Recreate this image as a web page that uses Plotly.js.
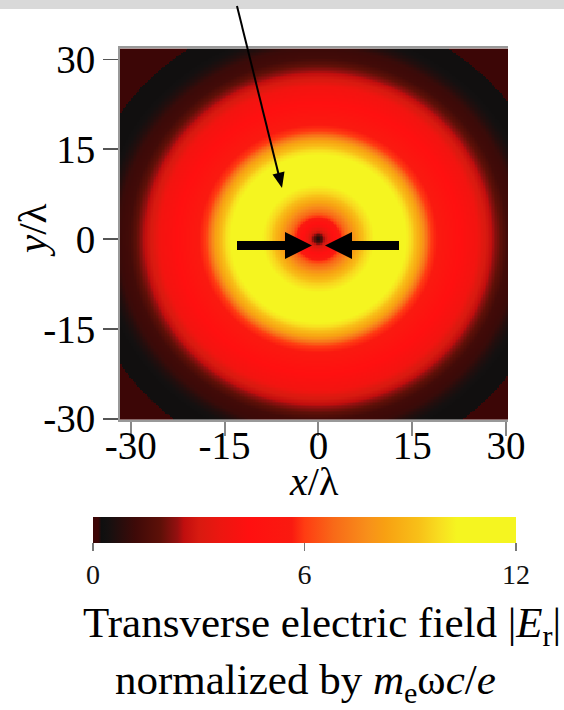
<!DOCTYPE html>
<html><head><meta charset="utf-8">
<script src="https://cdn.plot.ly/plotly-3.0.1.min.js"></script>
<style>html,body{margin:0;padding:0;background:#fff;}#chart{width:564px;height:710px;}</style>
</head><body><div id="chart"></div>
<script>
// Radial profile of |E_r| (r in units of λ, value in m_e ω c / e)
const profileR = [0, 0.5, 1, 2, 2.6, 3, 4.3, 6, 7.6, 9.3, 10.5, 11.5, 12.5, 13.7, 14.7, 16.4, 18, 19.7, 22, 23.3, 25.3, 26.3, 27.9, 29.1, 30.2, 31.2, 32, 33, 34, 35, 37.9, 38, 50];
const profileE = [0.3, 1.5, 2.6, 4.0, 4.5, 5.0, 6.7, 8.3, 9.6, 10.5, 11.5, 12, 11.5, 10.5, 9.9, 8.3, 6.0, 5.4, 4.6, 4.3, 3.9, 3.2, 2.5, 1.9, 1.3, 1.2, 1.1, 0.7, 0.45, 0.3, 0.3, 0, 0];

const xTickVals = [-30, -15, 0, 15, 30];
const xTickText = ['-30', '-15', '0', '15', '30'];
const yTickVals = [-30, -15, 0, 15, 30];
const yTickText = ['-30', '-15', '0', '15', '30'];
const cbTickVals = [0, 6, 12];
const cbTickText = ['0', '6', '12'];

const xRange = [-31.7, 30.3];
const yRange = [-30.2, 31.9];
const zRange = [0, 12];

const colorscale = [
  [0, '#3c0606'], [0.012, '#3c0606'], [0.02, '#0f0f0f'], [0.035, '#141010'],
  [0.1, '#3e0a08'], [0.16, '#5e1008'], [0.2, '#961010'], [0.215, '#c00e0e'],
  [0.25, '#d81a10'], [0.3, '#ec1610'], [0.37, '#ff1010'], [0.47, '#fa1a10'],
  [0.5, '#ff3c12'], [0.57, '#f86a18'], [0.65, '#f8901a'], [0.69, '#f8a012'],
  [0.77, '#f8c018'], [0.82, '#f8de20'], [0.86, '#f5f520'], [1, '#f5f520']
];

// build the 2-D table Plotly needs from the radial profile
function fieldAt(r) {
  for (let i = 1; i < profileR.length; i++) {
    if (r <= profileR[i]) {
      const t = (r - profileR[i - 1]) / (profileR[i] - profileR[i - 1]);
      return profileE[i - 1] + t * (profileE[i] - profileE[i - 1]);
    }
  }
  return profileE[profileE.length - 1];
}
const step = 0.25;
const xs = [], ys = [];
for (let x = xRange[0] + step / 2; x < xRange[1]; x += step) xs.push(+x.toFixed(4));
for (let y = yRange[0] + step / 2; y < yRange[1]; y += step) ys.push(+y.toFixed(4));
const z = ys.map(y => xs.map(x => fieldAt(Math.hypot(x, y))));

// plot area in pixels
const L = 120, R = 508, T = 48, B = 420, W = 564, H = 710;
const px = p => (p - L) / (R - L);
const py = p => (B - p) / (B - T);
const serif = 'Liberation Serif, Times New Roman, serif';

function poly(pts) {
  return 'M' + pts.map(p => px(p[0]).toFixed(5) + ',' + py(p[1]).toFixed(5)).join('L') + 'Z';
}

const shapes = [
  {type: 'rect', xref: 'paper', yref: 'paper', x0: px(0), x1: px(W), y0: py(9), y1: py(-2),
   fillcolor: '#d9d9d9', line: {width: 0}, layer: 'above'},
  {type: 'line', xref: 'paper', yref: 'paper', x0: px(237), y0: py(6), x1: px(278.5), y1: py(174),
   line: {color: '#000', width: 2}},
  {type: 'path', xref: 'paper', yref: 'paper', path: poly([[282, 188], [284.5, 171.5], [272.5, 174.5]]),
   fillcolor: '#000', line: {width: 0}},
  {type: 'path', xref: 'paper', yref: 'paper',
   path: poly([[237, 241], [285, 241], [285, 232], [312, 245.5], [285, 259], [285, 250], [237, 250]]),
   fillcolor: '#000', line: {width: 0}},
  {type: 'path', xref: 'paper', yref: 'paper',
   path: poly([[399, 241], [352, 241], [352, 232], [325, 245.5], [352, 259], [352, 250], [399, 250]]),
   fillcolor: '#000', line: {width: 0}}
];

const annotations = [
  {xref: 'paper', yref: 'paper', x: px(314), y: py(481), xanchor: 'center', yanchor: 'middle', showarrow: false,
   text: '<i>x</i>/λ', font: {family: serif, size: 40, color: '#000'}},
  {xref: 'paper', yref: 'paper', x: px(32), y: py(230), xanchor: 'center', yanchor: 'middle', showarrow: false,
   textangle: -90, text: '<i>y</i>/λ', font: {family: serif, size: 41, color: '#000'}},
  {xref: 'paper', yref: 'paper', x: px(322), y: py(626), xanchor: 'center', yanchor: 'middle', showarrow: false,
   text: 'Transverse electric field |<i>E</i><sub>r</sub>|', font: {family: serif, size: 43, color: '#000'}},
  {xref: 'paper', yref: 'paper', x: px(305), y: py(683), xanchor: 'center', yanchor: 'middle', showarrow: false,
   text: 'normalized by <i>m</i><sub>e</sub>ω<i>c</i>/<i>e</i>', font: {family: serif, size: 43, color: '#000'}}
];

const trace = {
  type: 'heatmap', x: xs, y: ys, z: z, zmin: zRange[0], zmax: zRange[1],
  colorscale: colorscale, zsmooth: false, hoverinfo: 'skip',
  colorbar: {
    orientation: 'h', xref: 'paper', yref: 'paper',
    x: px(304.5), xanchor: 'center', y: py(517), yanchor: 'top',
    len: 423, lenmode: 'pixels', thickness: 26, xpad: 0, ypad: 0,
    outlinewidth: 0, tickvals: cbTickVals, ticktext: cbTickText,
    ticks: 'outside', ticklen: 8, tickwidth: 1.5, tickcolor: '#777',
    tickfont: {family: serif, size: 28, color: '#111'}
  }
};

const layout = {
  width: W, height: H, paper_bgcolor: '#fff', plot_bgcolor: '#fff',
  margin: {l: L, r: W - R, t: T, b: H - B, pad: 0},
  showlegend: false,
  font: {family: serif, color: '#000'},
  xaxis: {range: xRange, tickvals: xTickVals, ticktext: xTickText, ticks: 'outside', ticklen: 14,
          tickwidth: 2, tickcolor: '#888', showline: true, linecolor: '#999', linewidth: 2, mirror: true,
          ticklabelstandoff: -24,
          showgrid: false, zeroline: false, tickfont: {family: serif, size: 39, color: '#000'}},
  yaxis: {range: yRange, tickvals: yTickVals, ticktext: yTickText, ticks: 'outside', ticklen: 15,
          tickwidth: 1.5, tickcolor: '#555', showline: true, linecolor: '#999', linewidth: 2,
          showgrid: false, zeroline: false, tickfont: {family: serif, size: 39, color: '#000'}},
  shapes: shapes, annotations: annotations
};

Plotly.newPlot('chart', [trace], layout, {staticPlot: true, displayModeBar: false});
</script></body></html>
